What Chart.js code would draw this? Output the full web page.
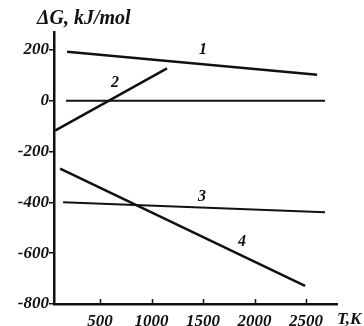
<!DOCTYPE html>
<html>
<head>
<meta charset="utf-8">
<script src="https://cdn.jsdelivr.net/npm/chart.js@4.4.1/dist/chart.umd.min.js"></script>
<style>
  body { margin: 0; background: #fff; }
  #wrap { width: 364px; height: 326px; }
</style>
</head>
<body>
<div id="wrap"><canvas id="chart" width="364" height="326"></canvas></div>
<script>
// values (T in K, dG in kJ/mol)
const tempTicks = [500, 1000, 1500, 2000, 2500];
const energyTicks = [200, 0, -200, -400, -600, -800];

const line1T = [180, 2607];
const line1G = [192, 102];
const zeroT = [170, 2684];
const zeroG = [0, 0];
const line2T = [63, 1150];
const line2G = [-118, 127];
const line3T = [141, 2684];
const line3G = [-400, -439];
const line4T = [112, 2490];
const line4G = [-267, -729];

// curve numbers and where they sit
const curveNames = ['1', '2', '3', '4'];
const curveLabelT = [1500, 646, 1490, 1879];
const curveLabelG = [200, 69, -380, -554];

const ink = '#111';
const serif = "'Liberation Serif', 'Times New Roman', serif";

function toPoints(xs, ys) {
  return xs.map((x, i) => ({ x: x, y: ys[i] }));
}

function series(xs, ys, w) {
  return {
    data: toPoints(xs, ys),
    borderColor: ink,
    borderWidth: w,
    pointRadius: 0,
    fill: false,
    tension: 0
  };
}

const extras = {
  id: 'extras',
  afterDraw(chart) {
    const ctx = chart.ctx;
    const xs = chart.scales.x;
    const ys = chart.scales.y;
    ctx.save();
    ctx.fillStyle = ink;
    ctx.strokeStyle = ink;

    // inward ticks on the T axis
    ctx.lineWidth = 1.5;
    tempTicks.forEach(t => {
      const px = Math.round(xs.getPixelForValue(t)) + 0.5;
      ctx.beginPath();
      ctx.moveTo(px, ys.bottom);
      ctx.lineTo(px, ys.bottom - 5);
      ctx.stroke();
    });

    // axis titles
    ctx.font = `italic bold 20px ${serif}`;
    ctx.textAlign = 'left';
    ctx.textBaseline = 'middle';
    ctx.fillText('\u0394G, kJ/mol', 37, 19);
    ctx.font = `italic bold 17px ${serif}`;
    ctx.fillText('T,K', 337, 320);

    // curve numbers
    ctx.font = `italic bold 16px ${serif}`;
    ctx.textAlign = 'center';
    curveNames.forEach((name, i) => {
      ctx.fillText(name, xs.getPixelForValue(curveLabelT[i]), ys.getPixelForValue(curveLabelG[i]));
    });
    ctx.restore();
  }
};

new Chart(document.getElementById('chart'), {
  type: 'line',
  data: {
    datasets: [
      series(line1T, line1G, 2.5),
      series(zeroT, zeroG, 2),
      series(line2T, line2G, 2.5),
      series(line3T, line3G, 2),
      series(line4T, line4G, 2.5)
    ]
  },
  options: {
    responsive: false,
    animation: false,
    devicePixelRatio: 1,
    layout: { padding: { top: 32, right: 27, left: 0, bottom: 0 } },
    plugins: {
      legend: { display: false },
      tooltip: { enabled: false }
    },
    scales: {
      x: {
        type: 'linear',
        min: 53,
        max: 2800,
        afterBuildTicks: s => { s.ticks = tempTicks.map(v => ({ value: v })); },
        afterFit: s => { s.height = 22; },
        grid: { display: false, drawTicks: false },
        border: { display: true, color: ink, width: 2.5 },
        ticks: {
          color: ink,
          padding: 7,
          maxRotation: 0,
          autoSkip: false,
          font: { family: serif, size: 17, style: 'italic', weight: 'bold' },
          callback: v => String(v)
        }
      },
      y: {
        min: -800,
        max: 270,
        afterBuildTicks: s => { s.ticks = energyTicks.map(v => ({ value: v })); },
        afterFit: s => { s.width = 54; },
        grid: {
          display: true,
          drawOnChartArea: false,
          drawTicks: true,
          tickLength: 5,
          color: ink,
          lineWidth: 1.5
        },
        border: { display: true, color: ink, width: 2.5 },
        ticks: {
          color: ink,
          padding: 0,
          autoSkip: false,
          font: { family: serif, size: 17, style: 'italic', weight: 'bold' },
          callback: v => String(v)
        }
      }
    }
  },
  plugins: [extras]
});
</script>
</body>
</html>
